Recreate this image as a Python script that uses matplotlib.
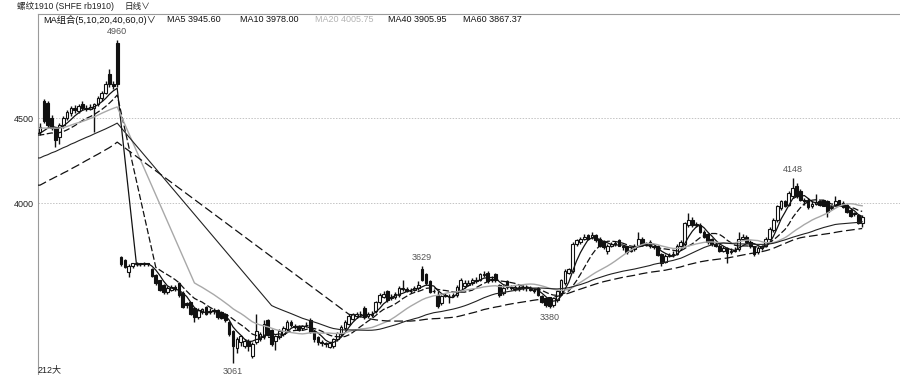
import numpy as np
import pandas as pd
import matplotlib
matplotlib.use("Agg")
import matplotlib.pyplot as plt

plt.rcParams['font.family'] = ['Liberation Sans', 'Noto Sans CJK SC', 'DejaVu Sans']

# ---------------- data ----------------
pre_open = [4420, 4600, 4590, 4500, 4440, 4390, 4460, 4500, 4530, 4560,
            4540, 4580, 4560, 4555, 4560, 4580, 4615, 4650, 4760, 4700,
            4940]
pre_high = [4470, 4610, 4600, 4520, 4450, 4470, 4510, 4545, 4570, 4575,
            4580, 4600, 4575, 4580, 4590, 4630, 4660, 4720, 4790, 4720,
            4960]
pre_low = [4400, 4470, 4450, 4430, 4330, 4350, 4440, 4490, 4510, 4530,
           4530, 4550, 4540, 4545, 4420, 4570, 4600, 4640, 4680, 4670,
           4680]
pre_close = [4450, 4480, 4460, 4440, 4370, 4460, 4500, 4535, 4560, 4550,
             4570, 4560, 4555, 4565, 4580, 4620, 4650, 4700, 4700, 4690,
             4700]

# moving averages shown over the first segment (history before it is not visible)
ma5_pre = [4410, 4425, 4440, 4452, 4445, 4442, 4452, 4470, 4490, 4512, 4530,
           4545, 4553, 4558, 4565, 4578, 4595, 4615, 4640, 4660, 4675]
ma10_pre = [4400, 4403, 4408, 4412, 4410, 4414, 4420, 4430, 4442, 4455, 4470,
            4485, 4498, 4508, 4520, 4535, 4550, 4568, 4588, 4610, 4635]
ma20_pre = [4440, 4441, 4440, 4441, 4440, 4441, 4444, 4450, 4458, 4466, 4473,
            4480, 4488, 4497, 4506, 4517, 4528, 4538, 4548, 4557, 4565]
ma40_pre = [4265, 4276, 4284, 4295, 4303, 4314, 4325, 4334, 4346, 4355, 4366,
            4376, 4386, 4395, 4406, 4416, 4426, 4436, 4447, 4458, 4470]
ma60_pre = [4105, 4117, 4130, 4141, 4153, 4163, 4176, 4187, 4200, 4212, 4224,
            4237, 4250, 4262, 4275, 4287, 4300, 4313, 4326, 4341, 4358]

post_open = [
    3680, 3665, 3595, 3630, 3640, 3645, 3640, 3645, 3610, 3575,
    3545, 3515, 3475, 3490, 3505, 3530, 3470, 3410, 3415, 3380,
    3330, 3360, 3390, 3365, 3370, 3370, 3360, 3350, 3300, 3250,
    3150, 3180, 3160, 3190, 3100, 3180, 3200, 3215, 3310, 3255,
    3190, 3210, 3230, 3260, 3300, 3275, 3275, 3265, 3280, 3310,
    3250, 3210, 3185, 3175, 3155, 3160, 3200, 3230, 3265, 3290,
    3320, 3335, 3345, 3385, 3335, 3340, 3365, 3415, 3450, 3480,
    3440, 3445, 3460, 3495, 3495, 3480, 3490, 3500, 3610, 3580,
    3540, 3480, 3460, 3410, 3455, 3450, 3455, 3460, 3490, 3510,
    3520, 3530, 3540, 3550, 3575, 3590, 3545, 3580, 3520, 3470,
    3540, 3505, 3495, 3500, 3500, 3505, 3495, 3490, 3500, 3455,
    3440, 3445, 3400, 3430, 3470, 3530, 3590, 3600, 3760, 3770,
    3790, 3810, 3800, 3810, 3790, 3775, 3720, 3750, 3760, 3780,
    3745, 3745, 3720, 3730, 3750, 3790, 3760, 3770, 3745, 3750,
    3700, 3655, 3690, 3695, 3700, 3750, 3760, 3870, 3900, 3870,
    3870, 3830, 3820, 3790, 3760, 3750, 3720, 3735, 3710, 3720,
    3730, 3790, 3800, 3770, 3745, 3710, 3735, 3745, 3790, 3840,
    3900, 3970, 4010, 3990, 4040, 4100, 4070, 4020, 4020, 3980,
    3995, 4010, 4015, 4010, 3970, 3990, 4015, 4000, 3990, 3960,
    3940, 3930, 3880]
post_high = [
    3690, 3670, 3640, 3650, 3655, 3650, 3655, 3650, 3620, 3585,
    3550, 3525, 3510, 3515, 3515, 3535, 3480, 3420, 3420, 3385,
    3380, 3385, 3395, 3380, 3380, 3375, 3365, 3355, 3305, 3255,
    3210, 3225, 3200, 3200, 3180, 3350, 3240, 3310, 3320, 3260,
    3225, 3260, 3275, 3310, 3310, 3290, 3285, 3285, 3300, 3325,
    3255, 3215, 3195, 3185, 3185, 3205, 3240, 3280, 3310, 3345,
    3355, 3360, 3365, 3395, 3360, 3365, 3425, 3470, 3480, 3490,
    3465, 3475, 3510, 3545, 3505, 3500, 3510, 3540, 3629, 3590,
    3545, 3495, 3480, 3460, 3470, 3465, 3470, 3515, 3560, 3545,
    3545, 3560, 3565, 3590, 3600, 3600, 3570, 3590, 3525, 3515,
    3545, 3520, 3520, 3515, 3515, 3520, 3510, 3500, 3505, 3460,
    3445, 3450, 3450, 3490, 3555, 3610, 3620, 3770, 3790, 3800,
    3820, 3820, 3830, 3820, 3800, 3785, 3760, 3770, 3775, 3790,
    3755, 3750, 3740, 3760, 3830, 3800, 3770, 3780, 3755, 3755,
    3705, 3700, 3705, 3715, 3760, 3780, 3890, 3940, 3920, 3890,
    3880, 3840, 3825, 3795, 3770, 3760, 3745, 3740, 3735, 3740,
    3830, 3815, 3810, 3780, 3750, 3745, 3755, 3800, 3860, 3910,
    3990, 4020, 4020, 4070, 4148, 4120, 4080, 4030, 4030, 4010,
    4055, 4020, 4020, 4015, 3990, 4040, 4020, 4010, 3995, 3970,
    3950, 3935, 3930]
post_low = [
    3630, 3615, 3565, 3620, 3630, 3630, 3632, 3630, 3565, 3520,
    3480, 3465, 3465, 3480, 3485, 3450, 3385, 3385, 3340, 3300,
    3320, 3350, 3340, 3350, 3350, 3320, 3315, 3300, 3220, 3061,
    3120, 3160, 3150, 3130, 3090, 3170, 3190, 3200, 3215, 3160,
    3135, 3200, 3220, 3250, 3270, 3260, 3245, 3255, 3270, 3235,
    3180, 3165, 3160, 3155, 3145, 3150, 3190, 3220, 3255, 3285,
    3310, 3325, 3330, 3320, 3325, 3330, 3355, 3405, 3440, 3420,
    3430, 3435, 3450, 3485, 3475, 3470, 3480, 3490, 3540, 3520,
    3470, 3470, 3385, 3400, 3445, 3410, 3445, 3450, 3480, 3500,
    3510, 3520, 3530, 3540, 3565, 3530, 3535, 3535, 3450, 3460,
    3495, 3490, 3485, 3485, 3490, 3485, 3480, 3470, 3455, 3410,
    3390, 3380, 3390, 3420, 3460, 3520, 3580, 3590, 3750, 3760,
    3780, 3780, 3790, 3770, 3740, 3730, 3700, 3740, 3750, 3745,
    3725, 3700, 3710, 3720, 3745, 3750, 3745, 3735, 3730, 3690,
    3630, 3645, 3680, 3685, 3695, 3740, 3750, 3860, 3860, 3860,
    3825, 3795, 3760, 3750, 3740, 3710, 3710, 3650, 3700, 3710,
    3720, 3780, 3765, 3735, 3690, 3700, 3725, 3740, 3780, 3830,
    3890, 3960, 3975, 3980, 4030, 4030, 4010, 3990, 3965, 3970,
    3990, 3980, 3980, 3920, 3960, 3985, 3985, 3970, 3940, 3920,
    3925, 3875, 3860]
post_close = [
    3640, 3625, 3630, 3645, 3645, 3640, 3648, 3640, 3570, 3530,
    3490, 3475, 3500, 3505, 3495, 3460, 3390, 3400, 3345, 3330,
    3370, 3375, 3345, 3360, 3365, 3330, 3325, 3310, 3230, 3160,
    3200, 3215, 3190, 3160, 3170, 3250, 3230, 3290, 3225, 3170,
    3215, 3250, 3265, 3300, 3280, 3270, 3255, 3275, 3285, 3240,
    3200, 3180, 3175, 3170, 3175, 3200, 3235, 3270, 3300, 3335,
    3345, 3345, 3350, 3330, 3345, 3350, 3415, 3460, 3465, 3430,
    3450, 3465, 3500, 3500, 3480, 3485, 3500, 3520, 3550, 3530,
    3475, 3485, 3395, 3455, 3460, 3445, 3460, 3505, 3545, 3530,
    3530, 3545, 3550, 3580, 3585, 3540, 3555, 3545, 3460, 3500,
    3505, 3500, 3505, 3495, 3505, 3500, 3490, 3480, 3460, 3420,
    3400, 3395, 3440, 3480, 3545, 3600, 3610, 3760, 3780, 3790,
    3800, 3790, 3810, 3780, 3750, 3740, 3750, 3760, 3765, 3750,
    3740, 3710, 3725, 3745, 3790, 3760, 3755, 3745, 3740, 3695,
    3650, 3690, 3695, 3700, 3750, 3770, 3880, 3900, 3870, 3875,
    3830, 3800, 3770, 3760, 3750, 3720, 3735, 3705, 3720, 3725,
    3790, 3800, 3770, 3745, 3700, 3735, 3745, 3790, 3850, 3900,
    3980, 4010, 3985, 4060, 4090, 4040, 4020, 4010, 3975, 3995,
    4005, 3990, 3985, 3950, 3975, 4010, 3990, 3975, 3945, 3925,
    3935, 3880, 3920]

ma_periods = [5, 10, 20, 40, 60]
ma_labels = ["MA5 3945.60", "MA10 3978.00", "MA20 4005.75", "MA40 3905.95", "MA60 3867.37"]
yticks = [4000, 4500]
# (text, candle index, price, above?)
peak_labels = [("4960", 20, 4960, True), ("3061", 50, 3061, False),
               ("3629", 99, 3629, True), ("3380", 132, 3380, False),
               ("4148", 195, 4148, True)]
title_text = "螺纹1910 (SHFE rb1910)"
period_text = "日线∨"
ma_group_text = "MA组合(5,10,20,40,60,0)∨"
bottom_text = "212大"

# ---------------- figure ----------------
W, H = 900, 375
fig = plt.figure(figsize=(W / 100, H / 100), dpi=100)
fig.patch.set_facecolor('white')


def fx(px):
    return px / W


def fy(py):
    return 1 - py / H


ax = fig.add_axes([fx(38), 0, 1 - fx(38), fy(14)])
ax.set_facecolor('white')

opens = np.array(pre_open + post_open, float)
highs = np.array(pre_high + post_high, float)
lows = np.array(pre_low + post_low, float)
closes = np.array(pre_close + post_close, float)
n = len(closes)
idx = np.arange(n)
npre = len(pre_close)

# candles
ax.vlines(idx, lows, highs, color='#111111', lw=1.0, zorder=2)
up = closes >= opens
body_bot = np.minimum(opens, closes)
body_h = np.maximum(np.abs(closes - opens), 2.0)
ax.bar(idx[up], body_h[up], bottom=body_bot[up], width=0.7,
       color='white', edgecolor='#111111', linewidth=0.8, zorder=3)
ax.bar(idx[~up], body_h[~up], bottom=body_bot[~up], width=0.7,
       color='#111111', edgecolor='#111111', linewidth=0.8, zorder=3)

# moving averages
pre_mas = [ma5_pre, ma10_pre, ma20_pre, ma40_pre, ma60_pre]
styles = [dict(color='#111111', lw=0.9, ls='-'),
          dict(color='#111111', lw=0.9, ls=(0, (5, 2))),
          dict(color='#a8a8a8', lw=1.0, ls='-'),
          dict(color='#222222', lw=0.8, ls='-'),
          dict(color='#111111', lw=0.9, ls=(0, (7, 3)))]
post_idx = np.arange(npre, n)
for per, pre, st in zip(ma_periods, pre_mas, styles):
    s = pd.Series(post_close, dtype=float).rolling(per).mean().to_numpy()
    ok = ~np.isnan(s)
    xs = np.concatenate([np.arange(npre), post_idx[ok]])
    ys = np.concatenate([np.array(pre, float), s[ok]])
    ax.plot(np.concatenate([[-0.5], xs]), np.concatenate([[ys[0]], ys]),
            zorder=4, **st)

# axes limits
spacing = 3.86
ax.set_xlim(-2 / spacing, (900 - 40) / spacing)


def y_of(py):
    return 4000 - (py - 203) / 0.17


ax.set_ylim(y_of(375), y_of(14))

for v in yticks:
    ax.axhline(v, color='#c4c4c4', lw=0.7, ls=(0, (1.5, 1.5)), zorder=1)
ax.set_yticks(yticks)
ax.set_yticklabels([str(v) for v in yticks], fontsize=6.5, color='#222222')
ax.tick_params(axis='y', length=0, pad=3)
ax.set_xticks([])
for side in ['right', 'bottom']:
    ax.spines[side].set_visible(False)
for side in ['left', 'top']:
    ax.spines[side].set_color('#9a9a9a')
    ax.spines[side].set_linewidth(0.8)

# high/low annotations
for txt, i, v, above in peak_labels:
    ax.annotate(txt, (i, v), xytext=(0, 3 if above else -3),
                textcoords='offset points', ha='center',
                va='bottom' if above else 'top', fontsize=6.5, color='#555555')

# header texts
fig.text(fx(17), fy(6), title_text, fontsize=6.2, va='center', ha='left', color='#222222')
fig.text(fx(125), fy(6), period_text, fontsize=6.2, va='center', ha='left', color='#222222')
fig.text(fx(43), fy(20), ma_group_text, fontsize=6.7, va='center', ha='left', color='#111111')
ma_x = [167, 240, 315, 388, 463]
ma_cols = ['#111111', '#111111', '#b4b4b4', '#111111', '#111111']
for x, t, c in zip(ma_x, ma_labels, ma_cols):
    fig.text(fx(x), fy(20), t, fontsize=6.5, va='center', ha='left', color=c)
fig.text(fx(38), fy(370), bottom_text, fontsize=6.5, va='center', ha='left', color='#222222')

fig.savefig("out.png", dpi=100, facecolor='white')
